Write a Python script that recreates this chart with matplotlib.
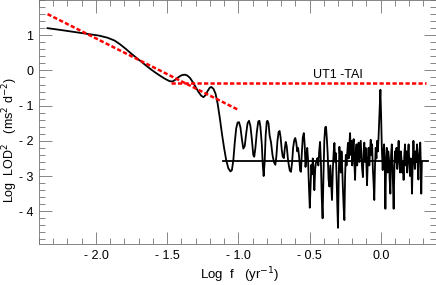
import matplotlib
matplotlib.use("Agg")
import matplotlib.pyplot as plt
from matplotlib.ticker import MultipleLocator, FixedLocator

plt.rcParams["font.family"] = ["Liberation Sans", "DejaVu Sans"]

# smooth low-frequency part of the spectrum
smooth_f = [-2.34, -2.25, -2.15, -2.05, -1.98, -1.92, -1.87, -1.83, -1.79, -1.75,
            -1.71, -1.67, -1.63, -1.59, -1.55, -1.51, -1.48, -1.46, -1.44, -1.42,
            -1.40, -1.38, -1.36, -1.34, -1.32, -1.30, -1.28, -1.26, -1.245, -1.23,
            -1.215, -1.20, -1.19, -1.175, -1.16, -1.145, -1.13, -1.115, -1.10, -1.085,
            -1.07, -1.055, -1.045]
smooth_p = [1.20, 1.15, 1.09, 1.03, 0.99, 0.93, 0.85, 0.74, 0.61, 0.47,
            0.34, 0.21, 0.08, -0.04, -0.15, -0.25, -0.31, -0.31, -0.26, -0.19,
            -0.14, -0.12, -0.14, -0.21, -0.33, -0.47, -0.61, -0.72, -0.76, -0.70,
            -0.58, -0.49, -0.47, -0.52, -0.66, -0.95, -1.35, -1.80, -2.20, -2.55,
            -2.78, -2.87, -2.83]

# oscillating middle part
osc_f = [-1.035, -1.025, -1.015, -1.005, -0.995, -0.985, -0.975, -0.965, -0.955, -0.945,
         -0.935, -0.925, -0.915, -0.905, -0.895, -0.888, -0.88, -0.87, -0.86, -0.852,
         -0.845, -0.835, -0.828, -0.822, -0.815, -0.808, -0.80, -0.795, -0.788, -0.78,
         -0.77, -0.76, -0.75, -0.74, -0.733, -0.725, -0.717, -0.71, -0.703, -0.695,
         -0.688, -0.68, -0.673, -0.667, -0.66, -0.652, -0.645, -0.638, -0.63, -0.622,
         -0.615, -0.607, -0.60, -0.593, -0.586, -0.58, -0.573, -0.566, -0.56, -0.554,
         -0.547, -0.54, -0.534, -0.528, -0.522, -0.516, -0.51, -0.504, -0.498, -0.492,
         -0.487, -0.482, -0.477, -0.472, -0.466, -0.46, -0.455, -0.45, -0.444, -0.438,
         -0.432, -0.426, -0.42, -0.414, -0.408, -0.402, -0.396, -0.39, -0.384, -0.378,
         -0.372]
osc_p = [-2.55, -2.05, -1.65, -1.48, -1.47, -1.62, -1.95, -2.22, -2.15, -1.80,
         -1.50, -1.43, -1.58, -1.95, -2.40, -2.45, -2.20, -1.75, -1.45, -1.43,
         -1.60, -2.10, -2.70, -3.00, -2.60, -1.85, -1.45, -1.43, -1.50, -1.85,
         -2.05, -2.40, -2.60, -2.68, -2.45, -2.00, -1.75, -1.72, -1.90, -2.25,
         -2.45, -2.49, -2.20, -2.03, -2.15, -2.50, -2.70, -2.85, -2.88, -2.60,
         -2.20, -1.98, -1.92, -2.05, -2.30, -2.20, -2.45, -2.85, -2.88, -2.35,
         -1.90, -1.78, -2.10, -2.74, -2.45, -2.20, -2.55, -3.30, -3.90, -3.20,
         -2.68, -2.95, -2.50, -2.75, -3.40, -2.80, -2.63, -2.55, -2.49, -2.70,
         -2.30, -2.03, -2.60, -3.60, -4.20, -3.00, -2.00, -1.62, -1.60, -1.95,
         -2.40]

# noisy high-frequency part
noise_f = [-0.366, -0.360, -0.354, -0.348, -0.342, -0.336, -0.330, -0.325, -0.320, -0.315,
           -0.310, -0.305, -0.300, -0.295, -0.290, -0.285, -0.280, -0.275, -0.270, -0.265,
           -0.260, -0.255, -0.250, -0.245, -0.240, -0.235, -0.230, -0.225, -0.220, -0.215,
           -0.210, -0.205, -0.200, -0.195, -0.190, -0.185, -0.180, -0.175, -0.170, -0.165,
           -0.160, -0.155, -0.150, -0.145, -0.140, -0.135, -0.130, -0.125, -0.120, -0.115,
           -0.110, -0.105, -0.100, -0.096, -0.090, -0.085, -0.080, -0.075, -0.070, -0.065,
           -0.060, -0.055, -0.050, -0.045, -0.040, -0.035, -0.030, -0.025, -0.020, -0.015,
           -0.010, -0.005, -0.002, 0.003, 0.008, 0.014, 0.019, 0.024, 0.029, 0.033,
           0.038, 0.043, 0.048, 0.053, 0.058, 0.063, 0.068, 0.073, 0.078, 0.083,
           0.087, 0.091, 0.096, 0.101, 0.106, 0.111, 0.116, 0.121, 0.126, 0.131,
           0.136, 0.141, 0.146, 0.151, 0.156, 0.161, 0.166, 0.171, 0.176, 0.181,
           0.186, 0.191, 0.196, 0.201, 0.206, 0.211, 0.216, 0.220, 0.225, 0.230,
           0.235, 0.240, 0.245, 0.250, 0.255, 0.260, 0.265, 0.270, 0.274, 0.278,
           0.282, 0.285, 0.289]
noise_p = [-3.10, -3.30, -2.70, -3.20, -3.68, -2.80, -2.30, -2.06, -2.60, -2.35,
           -3.00, -3.80, -4.47, -3.10, -2.17, -2.50, -2.90, -2.30, -2.80, -3.40,
           -3.90, -4.25, -3.00, -2.40, -2.70, -2.35, -2.06, -2.50, -2.10, -1.78,
           -2.40, -2.00, -2.70, -2.20, -1.95, -2.60, -3.11, -2.40, -2.10, -2.70,
           -2.30, -2.05, -2.60, -2.30, -2.00, -2.50, -2.80, -3.03, -2.30, -2.05,
           -2.60, -2.20, -2.70, -3.26, -2.50, -2.20, -2.70, -2.30, -1.97, -2.40,
           -2.10, -2.80, -3.20, -3.68, -2.70, -2.20, -2.50, -2.00, -2.30, -1.90,
           -1.40, -0.90, -0.55, -1.30, -2.20, -2.83, -2.30, -2.10, -2.80, -3.93,
           -2.60, -2.20, -2.90, -2.30, -2.50, -3.10, -3.50, -2.40, -2.10, -2.70,
           -3.30, -3.93, -2.80, -2.30, -2.60, -2.20, -2.80, -2.40, -2.00, -2.60,
           -2.90, -2.30, -2.50, -2.90, -2.60, -3.11, -2.40, -2.10, -2.70, -2.30,
           -2.90, -2.40, -2.10, -2.60, -3.00, -2.50, -2.80, -3.50, -2.60, -2.00,
           -2.50, -2.80, -2.30, -2.60, -2.10, -2.70, -3.10, -2.40, -2.20, -2.05,
           -2.70, -3.50, -2.60]

# fitted lines
fit_f = [-2.34, -1.0]
fit_p = [1.60, -1.12]
ut1_f = [-1.47, 0.32]
ut1_p = [-0.36, -0.36]
white_f = [-1.11, 0.33]
white_p = [-2.57, -2.57]

xticks = [-2.0, -1.5, -1.0, -0.5, 0.0]
xlabels = ["- 2.0", "- 1.5", "- 1.0", "- 0.5", "0.0"]
yticks = [1, 0, -1, -2, -3, -4]
ylabels = ["1", "0", "- 1", "- 2", "- 3", "- 4"]

W, H = 436, 285
fig = plt.figure(figsize=(W / 100, H / 100), dpi=100)
ax = fig.add_axes([39 / W, (H - 244) / H, (435.5 - 39) / W, 244 / H])

freq = smooth_f + osc_f + noise_f
power = smooth_p + osc_p + noise_p
ax.plot(freq, power, color="black", lw=1.3)
ax.plot(white_f, white_p, color="black", lw=1.3)
ax.plot(fit_f, fit_p, color="red", lw=1.8, ls=(0, (1.7, 0.9)))
ax.plot(ut1_f, ut1_p, color="red", lw=1.8, ls=(0, (1.7, 0.9)))

ax.set_xlim(-2.4, 0.385)
ax.set_ylim(-4.93, 2.0)
ax.xaxis.set_major_locator(FixedLocator(xticks))
ax.set_xticklabels(xlabels)
ax.yaxis.set_major_locator(FixedLocator(yticks))
ax.set_yticklabels(ylabels)
ax.xaxis.set_minor_locator(MultipleLocator(0.1))
ax.yaxis.set_minor_locator(MultipleLocator(0.2))
ax.tick_params(which="both", direction="in", top=True, right=True,
               width=0.6, color="0.45", labelsize=9)
ax.tick_params(which="major", length=9, pad=4)
ax.tick_params(which="minor", length=4.5)
for s in ax.spines.values():
    s.set_linewidth(0.6)
    s.set_color("0.45")

ax.text(-0.3, -0.22, "UT1 -TAI", fontsize=9, ha="center", va="baseline")

fig.text(240 / W, 1 - 275 / H, r"Log  f   (yr$^{-1}$)", fontsize=9.5,
         ha="center", va="center")
fig.text(10.5 / W, 1 - 140 / H, r"Log  LOD$^2$   (ms$^2$ d$^{-2}$)", fontsize=9,
         ha="center", va="center", rotation=90)

fig.savefig("out.png", dpi=100)
